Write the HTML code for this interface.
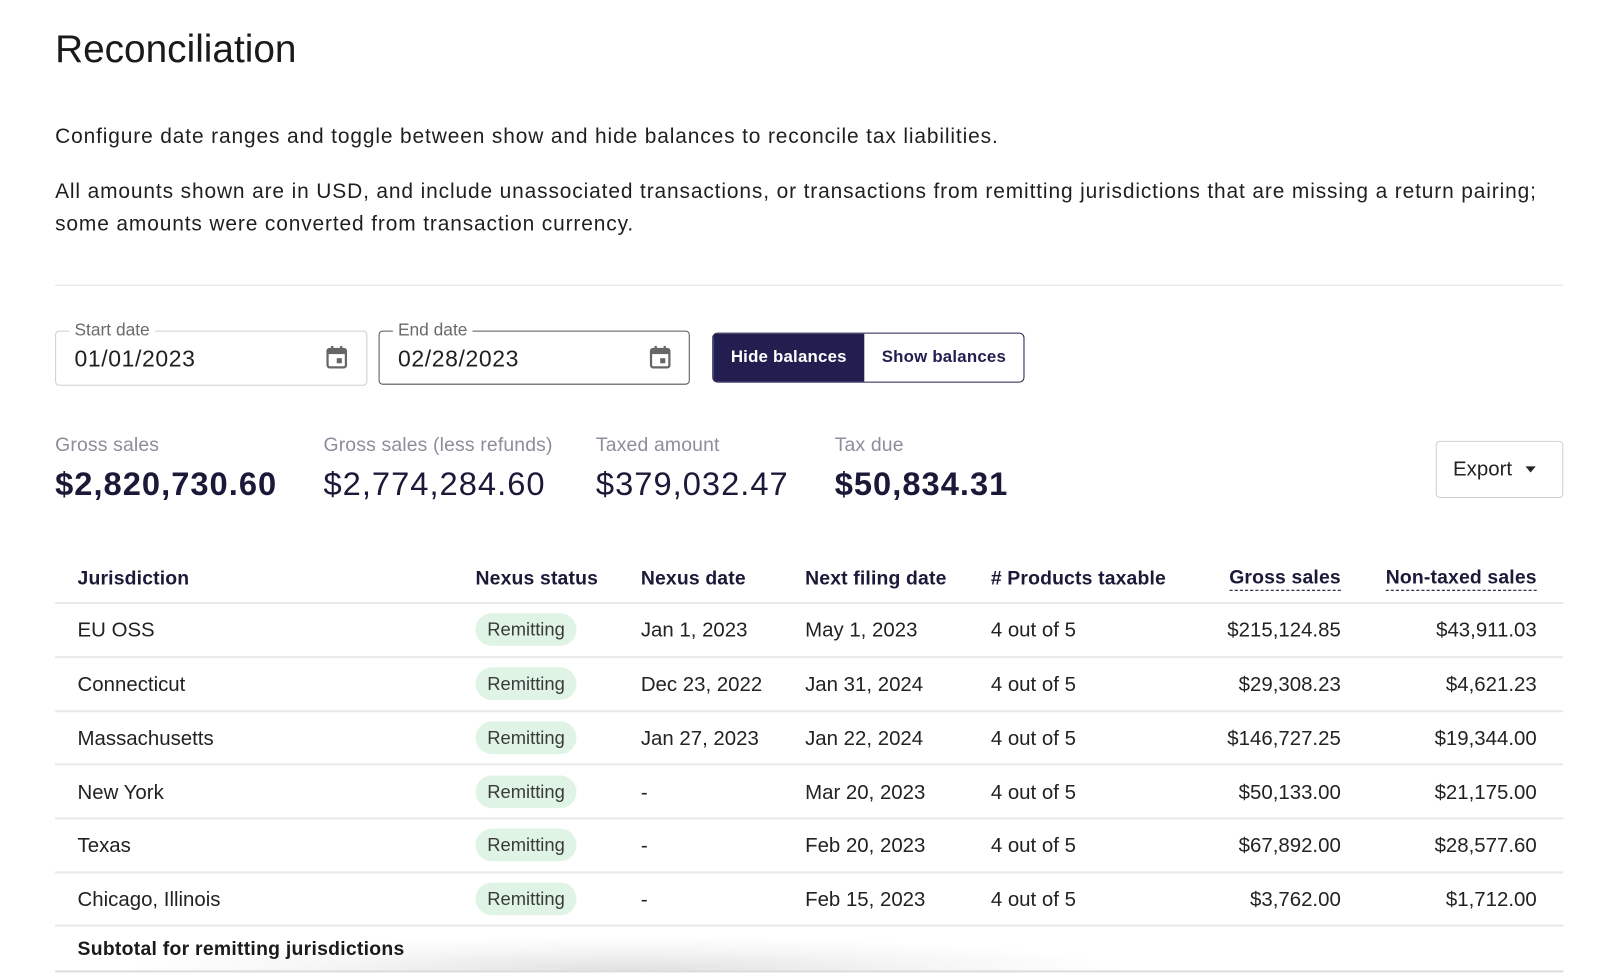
<!DOCTYPE html>
<html>
<head>
<meta charset="utf-8">
<style>
html,body{margin:0;padding:0;background:#fff;}
body{width:1600px;height:973px;overflow:hidden;position:relative;font-family:"Liberation Sans",Arial,sans-serif;}
#w{position:absolute;left:0;top:0;width:1568px;height:954px;transform:scale(1.020408);transform-origin:0 0;}
.a{position:absolute;white-space:nowrap;}
.t{color:#1f1f22;}
.line{position:absolute;left:54px;width:1478px;height:2px;background:#e9e9eb;}
.hd{font-size:19px;font-weight:bold;color:#1b1938;line-height:24px;letter-spacing:0.15px;}
.cell{font-size:20px;color:#222;line-height:24px;}
.badge{position:absolute;left:466px;width:99px;height:32px;border-radius:16px;background:#dff4e5;color:#3a3a3a;font-size:18px;line-height:32px;text-align:center;}
.r{text-align:right;}
.lbl{font-size:19px;color:#8d8d9b;line-height:24px;letter-spacing:0.15px;}
.val{font-size:32px;color:#1b1938;line-height:40px;letter-spacing:1px;}
.p{font-size:20.5px;line-height:32px;letter-spacing:0.85px;}
</style>
</head>
<body>
<div id="w">
  <div class="a t" style="left:54px;top:27px;font-size:38px;line-height:44px;color:#1a1a1a;">Reconciliation</div>
  <div class="a t p" style="left:54px;top:118px;">Configure date ranges and toggle between show and hide balances to reconcile tax liabilities.</div>
  <div class="a t p" style="left:54px;top:172px;">All amounts shown are in USD, and include unassociated transactions, or transactions from remitting jurisdictions that are missing a return pairing;<br>some amounts were converted from transaction currency.</div>
  <div class="a" style="left:54px;top:279px;width:1478px;height:1px;background:#e0e0e2;"></div>

  <!-- Start date -->
  <div class="a" style="left:54px;top:324px;width:304px;height:52px;border:1px solid #cfcfd2;border-radius:4px;"></div>
  <div class="a" style="left:68px;top:314px;background:#fff;padding:0 5px;font-size:17px;line-height:20px;color:#6a6a6a;">Start date</div>
  <div class="a" style="left:73px;top:339px;font-size:22.5px;line-height:26px;color:#1f1f22;letter-spacing:0.6px;">01/01/2023</div>
  <svg class="a" style="left:319px;top:338px;" width="22" height="24" viewBox="0 0 22 24"><rect x="2" y="4" width="18" height="18" rx="2" fill="none" stroke="#666" stroke-width="2.2"/><rect x="2" y="4" width="18" height="5" fill="#666"/><rect x="5.5" y="1" width="2.2" height="5" fill="#666"/><rect x="14.3" y="1" width="2.2" height="5" fill="#666"/><rect x="11" y="13" width="5" height="5" fill="#666"/></svg>

  <!-- End date -->
  <div class="a" style="left:371px;top:324px;width:303px;height:51px;border:1.5px solid #555;border-radius:4px;"></div>
  <div class="a" style="left:385px;top:314px;background:#fff;padding:0 5px;font-size:17px;line-height:20px;color:#6a6a6a;">End date</div>
  <div class="a" style="left:390px;top:339px;font-size:22.5px;line-height:26px;color:#1f1f22;letter-spacing:0.6px;">02/28/2023</div>
  <svg class="a" style="left:636px;top:338px;" width="22" height="24" viewBox="0 0 22 24"><rect x="2" y="4" width="18" height="18" rx="2" fill="none" stroke="#666" stroke-width="2.2"/><rect x="2" y="4" width="18" height="5" fill="#666"/><rect x="5.5" y="1" width="2.2" height="5" fill="#666"/><rect x="14.3" y="1" width="2.2" height="5" fill="#666"/><rect x="11" y="13" width="5" height="5" fill="#666"/></svg>

  <!-- Toggle -->
  <div class="a" style="left:698px;top:326px;width:304px;height:47px;border:1.5px solid #221e50;border-radius:5px;overflow:hidden;">
    <div class="a" style="left:0;top:0;width:148px;height:47px;background:#221e50;color:#fff;font-size:16.5px;font-weight:bold;line-height:47px;text-align:center;letter-spacing:0.2px;">Hide balances</div>
    <div class="a" style="left:148px;top:0;width:156px;height:47px;color:#221e50;font-size:16.5px;font-weight:bold;line-height:47px;text-align:center;letter-spacing:0.2px;">Show balances</div>
  </div>

  <!-- Summary -->
  <div class="a lbl" style="left:54px;top:425px;">Gross sales</div>
  <div class="a val" style="left:54px;top:454px;font-weight:bold;">$2,820,730.60</div>
  <div class="a lbl" style="left:317px;top:425px;">Gross sales (less refunds)</div>
  <div class="a val" style="left:317px;top:454px;">$2,774,284.60</div>
  <div class="a lbl" style="left:584px;top:425px;">Taxed amount</div>
  <div class="a val" style="left:584px;top:454px;">$379,032.47</div>
  <div class="a lbl" style="left:818px;top:425px;">Tax due</div>
  <div class="a val" style="left:818px;top:454px;font-weight:bold;">$50,834.31</div>

  <!-- Export -->
  <div class="a" style="left:1407px;top:432px;width:123px;height:54px;border:1px solid #cfcfd2;border-radius:4px;"></div>
  <div class="a" style="left:1424px;top:448px;font-size:20px;line-height:24px;color:#222;">Export</div>
  <div class="a" style="left:1495px;top:457px;width:0;height:0;border-left:5.5px solid transparent;border-right:5.5px solid transparent;border-top:6px solid #222;"></div>

  <!-- Table header -->
  <div class="a hd" style="left:76px;top:556px;">Jurisdiction</div>
  <div class="a hd" style="left:466px;top:556px;">Nexus status</div>
  <div class="a hd" style="left:628px;top:556px;">Nexus date</div>
  <div class="a hd" style="left:789px;top:556px;">Next filing date</div>
  <div class="a hd" style="left:971px;top:556px;"># Products taxable</div>
  <div class="a hd r" style="right:254px;top:556px;border-bottom:1.5px dashed #1b1938;line-height:22px;">Gross sales</div>
  <div class="a hd r" style="right:62px;top:556px;border-bottom:1.5px dashed #1b1938;line-height:22px;">Non-taxed sales</div>

  <div class="line" style="top:590px;"></div>
  <div class="line" style="top:643px;"></div>
  <div class="line" style="top:696px;"></div>
  <div class="line" style="top:748px;"></div>
  <div class="line" style="top:801px;"></div>
  <div class="line" style="top:854px;"></div>
  <div class="line" style="top:906px;"></div>

  <!-- rows -->
  <div class="a cell" style="left:76px;top:606px;">EU OSS</div>
  <div class="badge" style="top:601px;">Remitting</div>
  <div class="a cell" style="left:628px;top:606px;">Jan 1, 2023</div>
  <div class="a cell" style="left:789px;top:606px;">May 1, 2023</div>
  <div class="a cell" style="left:971px;top:606px;">4 out of 5</div>
  <div class="a cell r" style="right:254px;top:606px;">$215,124.85</div>
  <div class="a cell r" style="right:62px;top:606px;">$43,911.03</div>

  <div class="a cell" style="left:76px;top:659px;">Connecticut</div>
  <div class="badge" style="top:654px;">Remitting</div>
  <div class="a cell" style="left:628px;top:659px;">Dec 23, 2022</div>
  <div class="a cell" style="left:789px;top:659px;">Jan 31, 2024</div>
  <div class="a cell" style="left:971px;top:659px;">4 out of 5</div>
  <div class="a cell r" style="right:254px;top:659px;">$29,308.23</div>
  <div class="a cell r" style="right:62px;top:659px;">$4,621.23</div>

  <div class="a cell" style="left:76px;top:712px;">Massachusetts</div>
  <div class="badge" style="top:707px;">Remitting</div>
  <div class="a cell" style="left:628px;top:712px;">Jan 27, 2023</div>
  <div class="a cell" style="left:789px;top:712px;">Jan 22, 2024</div>
  <div class="a cell" style="left:971px;top:712px;">4 out of 5</div>
  <div class="a cell r" style="right:254px;top:712px;">$146,727.25</div>
  <div class="a cell r" style="right:62px;top:712px;">$19,344.00</div>

  <div class="a cell" style="left:76px;top:765px;">New York</div>
  <div class="badge" style="top:760px;">Remitting</div>
  <div class="a cell" style="left:628px;top:765px;">-</div>
  <div class="a cell" style="left:789px;top:765px;">Mar 20, 2023</div>
  <div class="a cell" style="left:971px;top:765px;">4 out of 5</div>
  <div class="a cell r" style="right:254px;top:765px;">$50,133.00</div>
  <div class="a cell r" style="right:62px;top:765px;">$21,175.00</div>

  <div class="a cell" style="left:76px;top:817px;">Texas</div>
  <div class="badge" style="top:812px;">Remitting</div>
  <div class="a cell" style="left:628px;top:817px;">-</div>
  <div class="a cell" style="left:789px;top:817px;">Feb 20, 2023</div>
  <div class="a cell" style="left:971px;top:817px;">4 out of 5</div>
  <div class="a cell r" style="right:254px;top:817px;">$67,892.00</div>
  <div class="a cell r" style="right:62px;top:817px;">$28,577.60</div>

  <div class="a cell" style="left:76px;top:870px;">Chicago, Illinois</div>
  <div class="badge" style="top:865px;">Remitting</div>
  <div class="a cell" style="left:628px;top:870px;">-</div>
  <div class="a cell" style="left:789px;top:870px;">Feb 15, 2023</div>
  <div class="a cell" style="left:971px;top:870px;">4 out of 5</div>
  <div class="a cell r" style="right:254px;top:870px;">$3,762.00</div>
  <div class="a cell r" style="right:62px;top:870px;">$1,712.00</div>

  <!-- shadow -->
  <div class="a" style="left:120px;top:918px;width:990px;height:34px;background:radial-gradient(ellipse 50% 100% at 50% 100%, rgba(0,0,0,0.12), rgba(0,0,0,0.04) 60%, rgba(0,0,0,0) 100%);"></div>
  <div class="a" style="left:76px;top:919px;font-size:19px;font-weight:bold;color:#1a1a1a;line-height:24px;letter-spacing:0.25px;">Subtotal for remitting jurisdictions</div>
  <div class="line" style="top:951px;background:#dcdcde;"></div>
</div>
</body>
</html>
